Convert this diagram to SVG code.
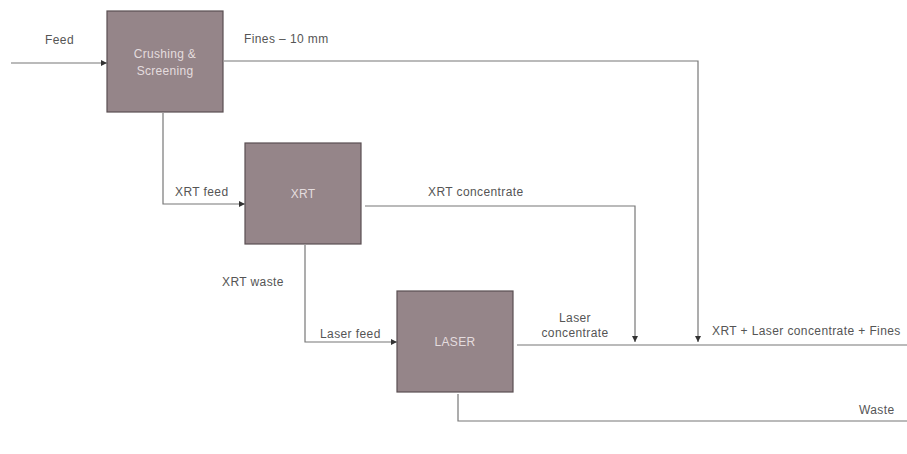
<svg xmlns="http://www.w3.org/2000/svg" width="907" height="454" viewBox="0 0 907 454">
<defs>
<marker id="arr" viewBox="0 0 6 6" refX="6" refY="3" markerWidth="6" markerHeight="6" markerUnits="userSpaceOnUse" orient="auto">
<path d="M0,0 L6,3 L0,6 z" fill="#333"/>
</marker>
<style>
.box{fill:#958589;stroke:#5a4f52;stroke-width:1.2}
.bt{font-family:"Liberation Sans",Arial,sans-serif;font-size:12px;letter-spacing:0.3px;fill:#e4dcde;text-anchor:middle}
.lbl{font-family:"Liberation Sans",Arial,sans-serif;font-size:12px;letter-spacing:0.4px;fill:#555}
.ln{fill:none;stroke:#777;stroke-width:1.2}
</style>
</defs>
<rect width="907" height="454" fill="#fff"/>
<g id="crushing">
<rect class="box" x="107" y="11" width="116" height="101"/>
<text class="bt" x="165" y="58">Crushing &amp;</text>
<text class="bt" x="165" y="75">Screening</text>
</g>
<g id="xrt">
<rect class="box" x="245" y="143" width="116" height="101"/>
<text class="bt" x="303" y="198">XRT</text>
</g>
<g id="laser">
<rect class="box" x="397" y="291" width="116" height="101"/>
<text class="bt" x="455" y="346">LASER</text>
</g>
<g id="connectors">
<path class="ln" d="M11,63 H107" marker-end="url(#arr)"/>
<path class="ln" d="M224,61 H698 V342" marker-end="url(#arr)"/>
<path class="ln" d="M163,113 V204 H245" marker-end="url(#arr)"/>
<path class="ln" d="M365,206 H635 V342" marker-end="url(#arr)"/>
<path class="ln" d="M305,245 V342 H397" marker-end="url(#arr)"/>
<path class="ln" d="M517,345 H907"/>
<path class="ln" d="M458,394 V421 H907"/>
</g>
<g id="labels">
<text class="lbl" x="45" y="44">Feed</text>
<text class="lbl" x="244" y="43">Fines – 10 mm</text>
<text class="lbl" x="175" y="196">XRT feed</text>
<text class="lbl" x="428" y="196">XRT concentrate</text>
<text class="lbl" x="222" y="286">XRT waste</text>
<text class="lbl" x="320" y="338">Laser feed</text>
<text class="lbl" x="575" y="322" text-anchor="middle">Laser</text>
<text class="lbl" x="575" y="337" text-anchor="middle">concentrate</text>
<text class="lbl" x="712" y="335">XRT + Laser concentrate + Fines</text>
<text class="lbl" x="859" y="414">Waste</text>
</g>
</svg>
